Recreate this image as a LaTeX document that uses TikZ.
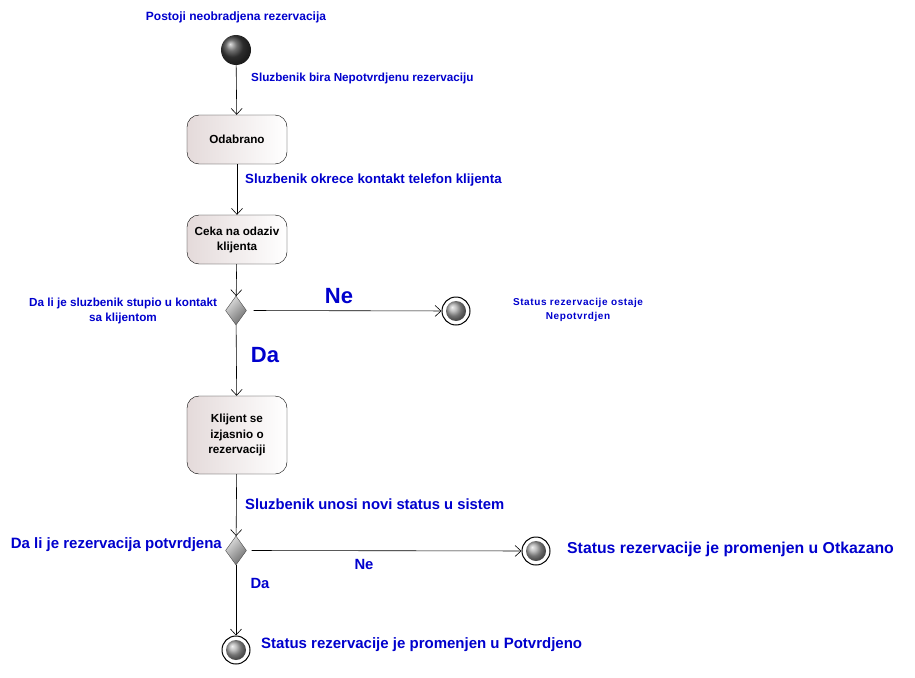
\documentclass[tikz,border=0pt]{standalone}
\usepackage{fontspec}
\setmainfont{Liberation Sans}
\usetikzlibrary{shapes.geometric,arrows.meta}
\definecolor{lblue}{RGB}{0,0,205}
\definecolor{boxl}{RGB}{228,218,218}
\begin{document}
\begin{tikzpicture}[x=1pt,y=-1pt,
  lbl/.style={text=lblue,font=\bfseries\fontsize{10.5}{12.5}\selectfont,inner sep=0pt},
  lblm/.style={text=lblue,font=\bfseries\fontsize{13.3}{15}\selectfont,inner sep=0pt},
  lblb/.style={text=lblue,font=\bfseries\fontsize{14.8}{16}\selectfont,inner sep=0pt},
  lblh/.style={text=lblue,font=\bfseries\fontsize{22}{24}\selectfont,inner sep=0pt},
  startnode/.style={circle,inner sep=0pt,minimum size=30pt,ball color=black!75,draw=none},
  endouter/.style={circle,draw=black,line width=1pt,fill=white,inner sep=0pt,minimum size=28pt},
  endinner/.style={circle,inner sep=0pt,minimum size=20pt,ball color=gray!70,draw=none},
  actbox/.style={draw=black,rounded corners=12pt,minimum width=100pt,minimum height=49pt,
     left color=boxl,right color=white,align=center,inner sep=2pt,
     font=\bfseries\fontsize{11.7}{15}\selectfont},
  decis/.style={diamond,draw=black!70,inner sep=0pt,minimum width=21pt,minimum height=29pt,
     shading=axis,top color=gray!25,bottom color=gray!85!black,shading angle=45},
  flow/.style={draw=black,line width=0.6pt,-{Straight Barb[length=6pt,width=11pt,line width=0.6pt]}},
  plain/.style={draw=black,line width=0.6pt}
]
\path (0,0) rectangle (915,677);

% nodes
\node[startnode] (s) at (236,50) {};
\node[actbox] (a1) at (237,139.5) {Odabrano};
\node[actbox] (a2) at (237,239.5) {Ceka na odaziv\\klijenta};
\node[decis] (d1) at (236,310.5) {};
\node[endouter] (f1) at (456,311) {};
\node[endinner] at (f1) {};
\node[actbox,minimum height=78pt,font=\bfseries\fontsize{11.7}{15.5}\selectfont] (a3) at (237,435) {Klijent se\\izjasnio o\\rezervaciji};
\node[decis] (d2) at (236,550.5) {};
\node[endouter] (f2) at (536,551) {};
\node[endinner] at (f2) {};
\node[endouter] (f3) at (236,650) {};
\node[endinner] at (f3) {};

% labels
\node[lbl,font=\bfseries\fontsize{12}{14}\selectfont] (t0) at (236,17) {Postoji neobradjena rezervacija};
\node[lbl,anchor=west,font=\bfseries\fontsize{11.7}{14}\selectfont] (t1) at (251,78) {Sluzbenik bira Nepotvrdjenu rezervaciju};
\node[lblm,anchor=west] (t2) at (245,180) {Sluzbenik okrece kontakt telefon klijenta};
\node[lbl,align=center,font=\bfseries\fontsize{11.7}{14.5}\selectfont] (t3) at (123,311) {Da li je sluzbenik stupio u kontakt\\sa klijentom};
\node[lblh] (t4) at (339,296) {Ne};
\node[lbl,align=center,font=\bfseries\fontsize{10}{14.5}\selectfont\addfontfeatures{LetterSpace=6}] (t5) at (578,310) {Status rezervacije ostaje\\Nepotvrdjen};
\node[lblh] (t6) at (265,355) {Da};
\node[lblb,anchor=west] (t7) at (245,504) {Sluzbenik unosi novi status u sistem};
\node[lblb,anchor=east,font=\bfseries\fontsize{15}{16}\selectfont] (t8) at (222,545) {Da li je rezervacija potvrdjena};
\node[lblb] (t9) at (364,564) {Ne};
\node[lblb,anchor=west,font=\bfseries\fontsize{15.8}{17}\selectfont] (t10) at (567,549) {Status rezervacije je promenjen u Otkazano};
\node[lblb] (t11) at (260,583) {Da};
\node[lblb,anchor=west,font=\bfseries\fontsize{15}{16}\selectfont] (t12) at (261,645) {Status rezervacije je promenjen u Potvrdjeno};

% connectors
\draw[flow] (s) -- (a1);
\draw[flow] (a1) -- (a2);
\draw[flow] (a2) -- (d1);
\draw[flow,shorten <=7pt] (d1.east) -- (f1);
\draw[flow] (d1) -- (a3);
\draw[flow] (a3) -- (d2);
\draw[flow,shorten <=5pt] (d2.east) -- (f2);
\draw[flow] (d2) -- (f3);
\end{tikzpicture}
\end{document}
